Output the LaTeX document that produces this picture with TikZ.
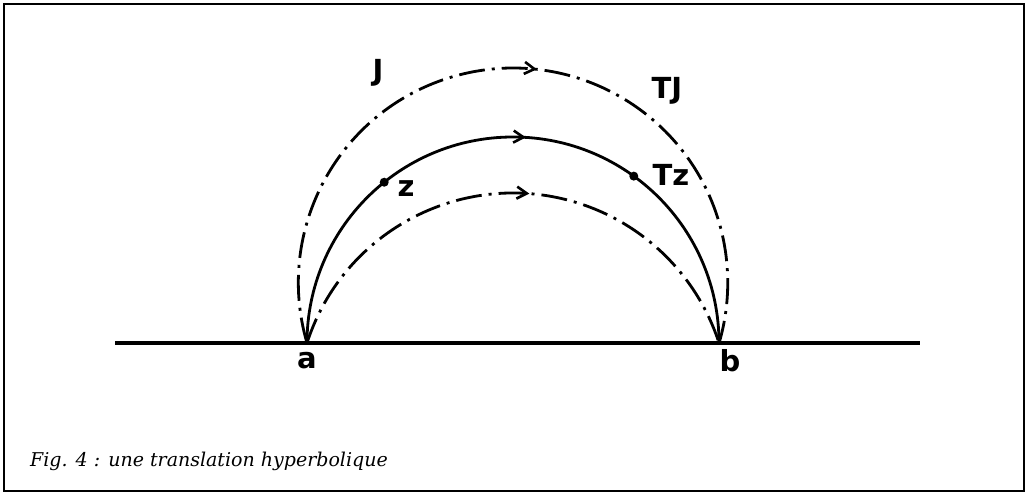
\documentclass[tikz,border=0pt]{standalone}
\usepackage{fontspec}
\newfontfamily\handfont{DejaVu Sans}
\newfontfamily\capfont{DejaVu Serif}
\usetikzlibrary{arrows.meta,decorations.markings,calc}
\begin{document}
\begin{tikzpicture}[x=1pt,y=1pt,
  frame/.style={line width=2.2pt},
  axisline/.style={line width=3.2pt},
  orbit/.style={line width=2.8pt, dash pattern=on 26pt off 7pt on 3pt off 7pt},
  geod/.style={line width=2.8pt},
  midarrow/.style={postaction={decorate,decoration={markings,
     mark=at position #1 with {\arrow{Straight Barb[length=10pt,width=12pt,line width=2.6pt]}}}}},
  hand/.style={font=\handfont\bfseries\fontsize{29}{31}\selectfont, inner sep=0pt},
  ptdot/.style={circle, fill=black, inner sep=0pt, minimum size=9pt},
  caption/.style={font=\capfont\itshape\fontsize{19}{22}\selectfont, anchor=base west, inner sep=0pt}
]
\useasboundingbox (0,0) rectangle (1029,494);
\draw[frame] (4,3) rectangle (1024,490);
% axis
\coordinate (L) at (115,151);
\coordinate (R) at (920,151);
\coordinate (a) at (307,151);
\coordinate (b) at (719,151);
\coordinate (c) at (513,151);
\draw[axisline] (L) -- (R);
% outer hypercycle J and TJ
\draw[orbit, midarrow=0.53] (a) arc[start angle=196.3, end angle=-16.3, radius=214.7];
% geodesic (semicircle)
\draw[geod, midarrow=0.52] (a) arc[start angle=180, end angle=0, radius=206];
% inner hypercycle
\draw[orbit, midarrow=0.53] (a) arc[start angle=162.1, end angle=17.9, radius=216.5];
% points
\node[ptdot] (z) at ($(c)+(128.7:206)$) {};
\node[ptdot] (tz) at ($(c)+(54.1:206)$) {};
% labels
\node[hand] (la) at (307,133) {a};
\node[hand] (lb) at (730,133) {b};
\node[hand] (lz) at (406,305) {z};
\node[hand] (ltz) at (671,319) {Tz};
\node[hand] (lJ) at (378,421) {J};
\node[hand] (lTJ) at (667,403) {TJ};
\node[caption] (cap) at (30,27) {Fig. 4 : une translation hyperbolique};
\end{tikzpicture}
\end{document}
